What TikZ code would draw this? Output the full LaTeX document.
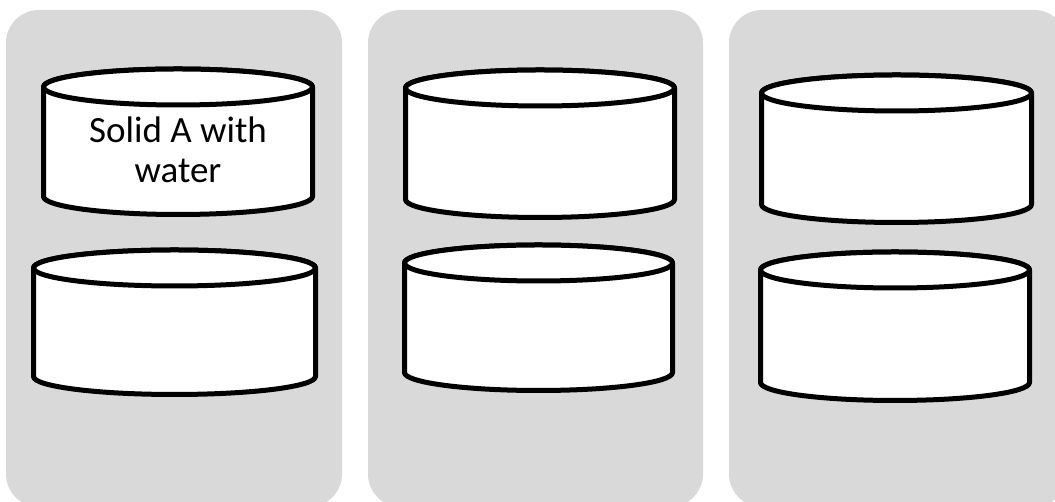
\documentclass[tikz,border=0pt]{standalone}
\usepackage{fontspec}
\setmainfont{Carlito}
\usepackage{xcolor}
\definecolor{panel-grey}{HTML}{D9D9D9}

\begin{document}
\begin{tikzpicture}[x=1pt, y=1pt,
      panel/.style={fill=panel-grey, rounded corners=33pt},
      beaker/.style={draw=black, fill=white, line width=5pt, line join=round},
      every node/.style={font=\fontsize{37}{40}\selectfont}]
    \useasboundingbox (0,0) rectangle (1055,502);
    % three grey panels
    \fill[panel] (6,-5) rectangle (342,492);
    \fill[panel] (368,-5) rectangle (703,492);
    \fill[panel] (729,-5) rectangle (1067,492);
    % panel 1
    \draw[beaker] (43.5,415) -- (43.5,305.5) arc[start angle=180, end angle=360, x radius=134.5, y radius=18]
          -- (312.5,415) arc[start angle=0, end angle=180, x radius=134.5, y radius=18] -- cycle;
    \draw[beaker] (178,415) ellipse[x radius=134.5, y radius=18];
    \node[align=center] (solidA) at (178,352) {Solid A with\\water};
    \draw[beaker] (33.5,234) -- (33.5,125.5) arc[start angle=180, end angle=360, x radius=141, y radius=18]
          -- (315.5,234) arc[start angle=0, end angle=180, x radius=141, y radius=18] -- cycle;
    \draw[beaker] (174.5,234) ellipse[x radius=141, y radius=18];
    % panel 2
    \draw[beaker] (405.5,414) -- (405.5,302.5) arc[start angle=180, end angle=360, x radius=134.5, y radius=18]
          -- (674.5,414) arc[start angle=0, end angle=180, x radius=134.5, y radius=18] -- cycle;
    \draw[beaker] (540,414) ellipse[x radius=134.5, y radius=18];
    \draw[beaker] (404.5,239) -- (404.5,129.5) arc[start angle=180, end angle=360, x radius=134, y radius=18]
          -- (672.5,239) arc[start angle=0, end angle=180, x radius=134, y radius=18] -- cycle;
    \draw[beaker] (538.5,239) ellipse[x radius=134, y radius=18];
    % panel 3
    \draw[beaker] (761.5,409) -- (761.5,297.5) arc[start angle=180, end angle=360, x radius=135, y radius=18]
          -- (1031.5,409) arc[start angle=0, end angle=180, x radius=135, y radius=18] -- cycle;
    \draw[beaker] (896.5,409) ellipse[x radius=135, y radius=18];
    \draw[beaker] (760.5,232) -- (760.5,119.5) arc[start angle=180, end angle=360, x radius=134.5, y radius=18]
          -- (1029.5,232) arc[start angle=0, end angle=180, x radius=134.5, y radius=18] -- cycle;
    \draw[beaker] (895,232) ellipse[x radius=134.5, y radius=18];
  \end{tikzpicture}
\end{document}
